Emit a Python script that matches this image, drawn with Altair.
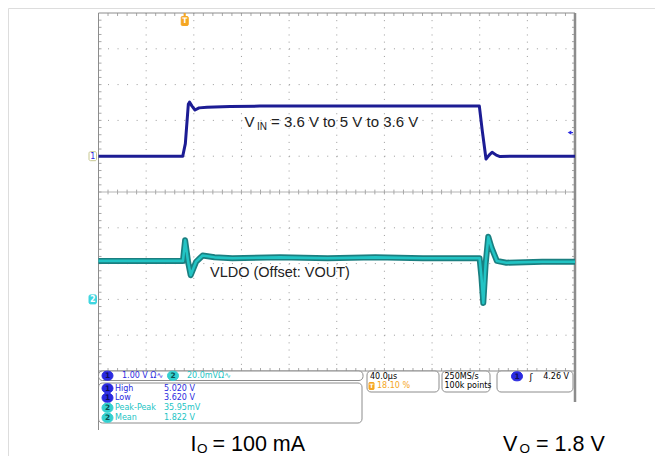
import altair as alt
import pandas as pd

# ---------------- data ----------------
# Channel 1 (VIN) in volts vs time relative to the trigger (µs)
ch1_time_us = [-72.4, -1.7, 0.5, 3.0, 4.0, 6.1, 8.6, 12.0, 18.7, 38.0, 63.0,
               247.3, 249.8, 252.9, 255.5, 258.0, 261.5, 264.7, 275.0, 327.6]
ch1_volts = [3.60, 3.60, 3.95, 5.05, 5.11, 5.00, 4.89, 4.95, 4.97, 4.99, 5.00,
             5.00, 4.30, 3.52, 3.63, 3.71, 3.63, 3.59, 3.60, 3.60]

# Channel 2 (VLDO) in volts vs time relative to the trigger (µs)
ch2_time_us = [-72.4, -1.5, 0.3, 2.8, 5.0, 9.5, 15.0, 25.0, 40.0, 80.0, 120.0,
               160.0, 200.0, 247.5, 249.0, 250.6, 252.6, 254.8, 257.5, 262.0,
               270.0, 300.0, 327.6]
ch2_volts = [1.8215, 1.8215, 1.833, 1.821, 1.8135, 1.821, 1.8245, 1.8235,
             1.823, 1.8235, 1.823, 1.8235, 1.823, 1.823, 1.813, 1.798, 1.820,
             1.835, 1.829, 1.8215, 1.8205, 1.821, 1.821]

ch1_volts_per_div = 1.0
ch1_ref_volts = 3.6
ch1_ref_div = 1.0
ch2_volts_per_div = 0.020
ch2_ref_volts = 1.8
ch2_ref_div = -3.0
time_per_div_us = 40.0
trigger_fraction = 0.181
trigger_level_volts = 4.26

readout_channels = ["1", "1", "2", "2"]
readout_labels = ["High", "Low", "Peak-Peak", "Mean"]
readout_values = ["5.020 V", "3.620 V", "35.95mV", "1.822 V"]

# ---------------- layout (page pixels of the screenshot) ----------------
W, H = 647, 448
GRID_L, GRID_R = 98.5, 575.0
GRID_T = 13.0
DIV_W = (GRID_R - GRID_L) / 10
DIV_H = 35.8
CENTER_Y = GRID_T + 5 * DIV_H
T_LEFT = -trigger_fraction * 10 * time_per_div_us


def T(px):
    return (px - GRID_L) / DIV_W * time_per_div_us + T_LEFT


def D(py):
    return (CENTER_Y - py) / DIV_H


XS = alt.Scale(domain=[T(8), T(8 + W)], nice=False, zero=False)
YS = alt.Scale(domain=[D(8 + H), D(8)], nice=False, zero=False)

NAVY = "#1c1c94"
BLUE = "#2a2ae0"
CYAN = "#22c4c4"
DARKCYAN = "#1a7f80"
ORANGE = "#f5a623"
GRIDC = "#9a9a9a"
BORDER = "#8c8c8c"


def X(f="x"):
    return alt.X(f"{f}:Q", scale=XS, axis=None)


def Y(f="y"):
    return alt.Y(f"{f}:Q", scale=YS, axis=None)


layers = []

# ---- graticule ----
g_left, g_right = T(GRID_L), T(GRID_R)
g_top, g_bot = 5.0, -5.0
vlines = pd.DataFrame({"x": [T_LEFT + k * time_per_div_us for k in range(1, 10)]})
vlines["y"] = g_top
vlines["y2"] = g_bot
layers.append(alt.Chart(vlines).mark_rule(color=GRIDC, strokeWidth=1,
                                          strokeDash=[1, DIV_H / 5 - 1]).encode(
    x=X(), y=Y(), y2="y2:Q"))
hl = [g_top - k for k in range(1, 10) if k != 5]
hlines = pd.DataFrame({"y": hl, "x": g_left, "x2": g_right})
layers.append(alt.Chart(hlines).mark_rule(color=GRIDC, strokeWidth=1,
                                          strokeDash=[1, DIV_W / 5 - 1]).encode(
    x=X(), x2="x2:Q", y=Y()))
center = pd.DataFrame({"x": [g_left], "x2": [g_right], "y": [0.0]})
layers.append(alt.Chart(center).mark_rule(color="#b5b5b5", strokeWidth=1).encode(
    x=X(), x2="x2:Q", y=Y()))

# minor ticks along edges and centre line
rows = []
tx = 3 / DIV_W * time_per_div_us
ty = 3 / DIV_H
for i in range(1, 50):
    xv = T_LEFT + i * time_per_div_us / 5
    rows.append((xv, xv, g_top, g_top - ty))
    rows.append((xv, xv, g_bot, g_bot + ty))
    rows.append((xv, xv, -ty * 0.8, ty * 0.8))
for i in range(1, 50):
    yv = g_top - i / 5
    rows.append((g_left, g_left + tx, yv, yv))
    rows.append((g_right, g_right - tx, yv, yv))
ticks = pd.DataFrame(rows, columns=["x", "x2", "y", "y2"])
layers.append(alt.Chart(ticks).mark_rule(color="#a8a8a8", strokeWidth=1).encode(
    x=X(), x2="x2:Q", y=Y(), y2="y2:Q"))

# border
left_b = pd.DataFrame({"x": [g_left], "y": [g_top], "y2": [D(430)]})
layers.append(alt.Chart(left_b).mark_rule(color=BORDER, strokeWidth=1).encode(
    x=X(), y=Y(), y2="y2:Q"))
right_b = pd.DataFrame({"x": [g_right], "y": [g_top], "y2": [D(402)]})
layers.append(alt.Chart(right_b).mark_rule(color=BORDER, strokeWidth=2.5).encode(
    x=X(), y=Y(), y2="y2:Q"))
tb = pd.DataFrame({"x": [g_left, g_left], "x2": [g_right, g_right], "y": [g_top, g_bot]})
layers.append(alt.Chart(tb).mark_rule(color=BORDER, strokeWidth=1).encode(
    x=X(), x2="x2:Q", y=Y()))

# ---- traces ----
df1 = pd.DataFrame({"t": ch1_time_us, "v": ch1_volts})
df1["div"] = (df1["v"] - ch1_ref_volts) / ch1_volts_per_div + ch1_ref_div
df2 = pd.DataFrame({"t": ch2_time_us, "v": ch2_volts})
df2["div"] = (df2["v"] - ch2_ref_volts) / ch2_volts_per_div + ch2_ref_div

layers.append(alt.Chart(df2).mark_line(color=DARKCYAN, strokeWidth=6, strokeJoin="round").encode(
    x=X("t"), y=Y("div"), order="t:Q"))
layers.append(alt.Chart(df2).mark_line(color=CYAN, strokeWidth=2.6, strokeJoin="round").encode(
    x=X("t"), y=Y("div"), order="t:Q"))
layers.append(alt.Chart(df1).mark_line(color=NAVY, strokeWidth=3, strokeJoin="round").encode(
    x=X("t"), y=Y("div"), order="t:Q"))


# ---- helpers for boxes and text ----
def box(x1, y1, x2, y2, fill="white", stroke=BORDER, r=4, sw=1):
    d = pd.DataFrame({"x": [T(x1)], "x2": [T(x2)], "y": [D(y1)], "y2": [D(y2)]})
    return alt.Chart(d).mark_rect(fill=fill, stroke=stroke, strokeWidth=sw,
                                  cornerRadius=r).encode(
        x=X(), x2="x2:Q", y=Y(), y2="y2:Q")


def txt(px, py, s, color="black", size=8, align="left", font="DejaVu Sans",
        weight="normal", baseline="middle"):
    d = pd.DataFrame({"x": [T(px)], "y": [D(py)], "s": [s]})
    return alt.Chart(d).mark_text(color=color, fontSize=size, align=align,
                                  baseline=baseline, font=font,
                                  fontWeight=weight).encode(
        x=X(), y=Y(), text="s:N")


def badge(cx, cy, s, fill, tcolor, w=11, h=9):
    return [box(cx - w / 2, cy - h / 2, cx + w / 2, cy + h / 2, fill=fill,
                stroke=fill, r=h / 2),
            txt(cx, cy + 0.5, s, color=tcolor, size=7.5, align="center",
                weight="bold")]


# ---- channel / trigger markers ----
ch1_marker_y = CENTER_Y - ch1_ref_div * DIV_H
ch2_marker_y = CENTER_Y - ch2_ref_div * DIV_H
layers.append(box(89, ch1_marker_y - 4.5, 96.5, ch1_marker_y + 4.5, fill="white",
                  stroke="#c8c890", r=1.5))
layers.append(txt(92.8, ch1_marker_y + 0.5, "1", color=BLUE, size=8, align="center"))
layers.append(box(89, ch2_marker_y - 4.5, 96.5, ch2_marker_y + 4.5, fill="#3fd6e0",
                  stroke="#3fd6e0", r=1.5))
layers.append(txt(92.8, ch2_marker_y + 0.5, "2", color="white", size=8, align="center",
                  weight="bold"))

trig_px = GRID_L + trigger_fraction * 10 * DIV_W
layers.append(box(trig_px - 3.5, 16.5, trig_px + 3.5, 25.5, fill=ORANGE, stroke=ORANGE, r=1))
layers.append(txt(trig_px, 21.3, "T", color="white", size=7.5, align="center", weight="bold"))
tk = pd.DataFrame({"x": [T(trig_px)], "y": [D(13)], "y2": [D(16.5)]})
layers.append(alt.Chart(tk).mark_rule(color=ORANGE, strokeWidth=2).encode(
    x=X(), y=Y(), y2="y2:Q"))

trig_div = (trigger_level_volts - ch1_ref_volts) / ch1_volts_per_div + ch1_ref_div
arr = pd.DataFrame({"x": [T(569.5)], "y": [trig_div]})
layers.append(alt.Chart(arr).mark_point(shape="triangle-left", filled=True, color=BLUE,
                                         size=18, opacity=1).encode(x=X(), y=Y()))
arr2 = pd.DataFrame({"x": [T(569)], "x2": [T(573)], "y": [trig_div]})
layers.append(alt.Chart(arr2).mark_rule(color=BLUE, strokeWidth=1.2).encode(
    x=X(), x2="x2:Q", y=Y()))

# ---- annotations in the plot ----
SANS = "Liberation Sans"
layers.append(txt(244.5, 122, "V", color="#222222", size=15, font=SANS))
layers.append(txt(257, 127, "IN", color="#222222", size=10, font=SANS))
layers.append(txt(271, 122, "= 3.6 V to 5 V to 3.6 V", color="#222222", size=15, font=SANS))
layers.append(txt(210, 273, "VLDO (Offset: VOUT)", color="#222222", size=14.5, font=SANS))

# ---- readout boxes ----
layers.append(box(98.5, 371, 363, 380.5))
layers += badge(107.5, 375.7, "1", BLUE, "#10105a")
layers.append(txt(122, 375.9, "1.00 V  Ω∿", color=BLUE, size=8))
layers += badge(173, 375.7, "2", "#33d0d0", "#0b4f50")
layers.append(txt(187, 375.9, "20.0mVΩ∿", color=CYAN, size=8))

layers.append(box(98.5, 383, 362, 423))
row_y = [388.3, 397.8, 407.8, 417.8]
for ch, lab, val, yy in zip(readout_channels, readout_labels, readout_values, row_y):
    col = BLUE if ch == "1" else CYAN
    bfill = BLUE if ch == "1" else "#33d0d0"
    tcol = "#10105a" if ch == "1" else "#0b4f50"
    layers += badge(107.5, yy, ch, bfill, tcol)
    layers.append(txt(115, yy + 0.2, lab, color=col, size=8))
    layers.append(txt(164, yy + 0.2, val, color=col, size=8))

layers.append(box(367, 371, 439, 392))
layers.append(txt(370, 376.5, f"{time_per_div_us:.1f}µs", color="black", size=8))
layers.append(box(369, 382.5, 374, 389.5, fill=ORANGE, stroke=ORANGE, r=0.5))
layers.append(txt(371.5, 386.3, "T", color="white", size=6, align="center", weight="bold"))
layers.append(txt(377, 386.3, f"{trigger_fraction*100:.2f} %", color=ORANGE, size=8))

layers.append(box(442, 371, 490, 392))
layers.append(txt(444.5, 376.5, "250MS/s", color="black", size=8))
layers.append(txt(444.5, 386.3, "100k points", color="black", size=8))

layers.append(box(497, 371, 573, 392))
layers += badge(517, 376.3, "1", BLUE, "#10105a")
layers.append(txt(531, 376.5, "ʃ", color="black", size=9, align="center"))
layers.append(txt(569, 376.5, f"{trigger_level_volts:.2f} V", color="black", size=8,
                  align="right"))

# ---- bottom captions ----
layers.append(txt(190.5, 451, "I", color="black", size=21.5, font=SANS, baseline="alphabetic"))
layers.append(txt(197, 453, "O", color="black", size=13.5, font=SANS, baseline="alphabetic"))
layers.append(txt(212.5, 451, "= 100 mA", color="black", size=21.5, font=SANS, baseline="alphabetic"))
layers.append(txt(503, 451, "V", color="black", size=21.5, font=SANS, baseline="alphabetic"))
layers.append(txt(519.5, 453, "O", color="black", size=13.5, font=SANS, baseline="alphabetic"))
layers.append(txt(536, 451, "= 1.8 V", color="black", size=21.5, font=SANS, baseline="alphabetic"))

chart = alt.layer(*layers).properties(
    width=W, height=H, autosize=alt.AutoSizeParams(type="none"), padding=0
).configure_view(stroke=None).configure(background="white")

chart.save("out.html", embed_options={"renderer": "svg", "actions": False})
